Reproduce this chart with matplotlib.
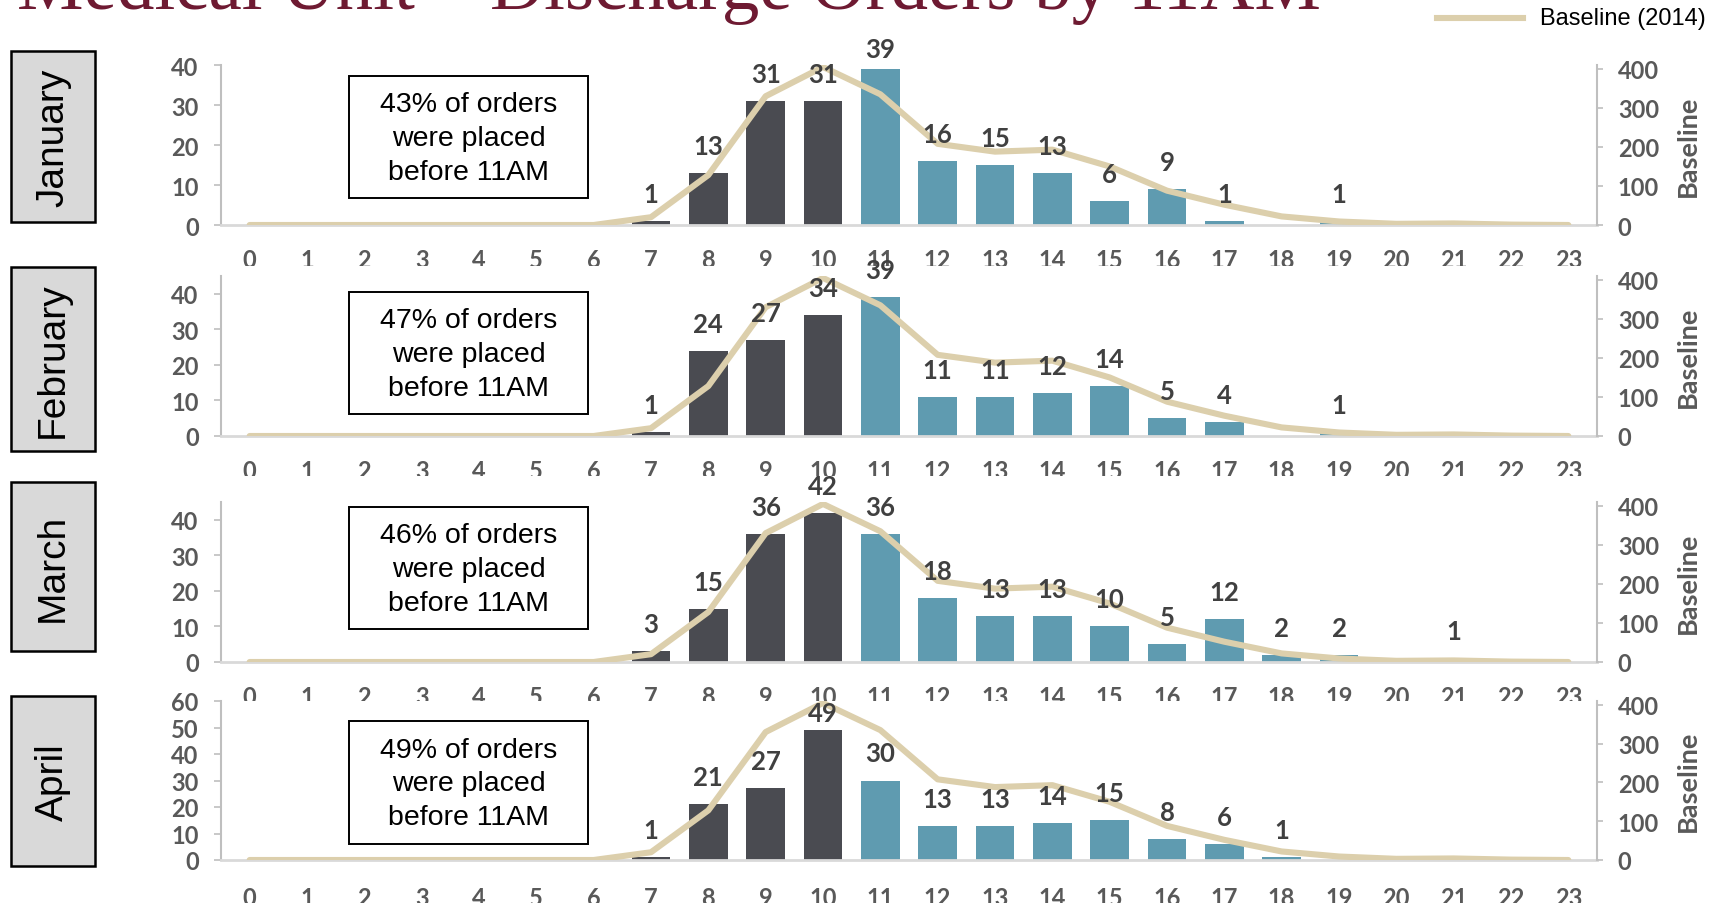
import matplotlib
matplotlib.use("Agg")
import matplotlib.pyplot as plt
from matplotlib.patches import Rectangle
from matplotlib.lines import Line2D

# ---- data -------------------------------------------------------------
hours = list(range(24))
hour_labels = [str(h) for h in hours]
months = ["January", "February", "March", "April"]

orders_jan = [0, 0, 0, 0, 0, 0, 0, 1, 13, 31, 31, 39, 16, 15, 13, 6, 9, 1, 0, 1, 0, 0, 0, 0]
orders_feb = [0, 0, 0, 0, 0, 0, 0, 1, 24, 27, 34, 39, 11, 11, 12, 14, 5, 4, 0, 1, 0, 0, 0, 0]
orders_mar = [0, 0, 0, 0, 0, 0, 0, 3, 15, 36, 42, 36, 18, 13, 13, 10, 5, 12, 2, 2, 0, 1, 0, 0]
orders_apr = [0, 0, 0, 0, 0, 0, 0, 1, 21, 27, 49, 30, 13, 13, 14, 15, 8, 6, 1, 0, 0, 0, 0, 0]
baseline_2014 = [0, 0, 0, 0, 0, 0, 0, 20, 128, 330, 405, 335, 208, 188, 193, 150,
                 88, 52, 22, 9, 3, 4, 1, 0]

left_max = [40, 45, 45, 60]
left_ticks = [[0, 10, 20, 30, 40], [0, 10, 20, 30, 40], [0, 10, 20, 30, 40],
              [0, 10, 20, 30, 40, 50, 60]]
baseline_ticks = [0, 100, 200, 300, 400]
cutoff_hour = 11

title = "Medical Unit \u2013 Discharge Orders by 11AM"
legend_label = "Baseline (2014)"
right_label = "Baseline"

# ---- styling ----------------------------------------------------------
plt.rcParams["font.family"] = ["Lato", "DejaVu Sans"]
DARK = "#4a4b51"
TEAL = "#5f9bb0"
BEIGE = "#dccfac"
TICK_TXT = "#595959"
LABEL_TXT = "#404040"
AXIS_GREY = "#bfbfbf"
MAROON = "#6e1a32"
TICK_SIZE = 17
VALUE_SIZE = 18.5

W, H = 1727, 904
fig = plt.figure(figsize=(W / 100, H / 100), dpi=100)


def fx(px):
    return px / W


def fy(py):
    return 1 - py / H


ax_left, ax_right = 221, 1597
axes_top = [66, 277, 503, 702]
axes_bot = [226, 437, 663, 861]
cover_top = [None, 267, 477, 702]
hour_pad = [16.3, 16.3, 16.3, 18.5]
label_ceiling = [39, 255, 470, 703]   # value labels are kept below these rows
month_box = [(52, 223), (268, 452), (483, 652), (697, 867)]
note_box = [(77, 199), (293, 415), (508, 630), (722, 845)]

all_orders = [orders_jan, orders_feb, orders_mar, orders_apr]

for i, (month, orders) in enumerate(zip(months, all_orders)):
    z = 10 * (i + 1)
    if cover_top[i] is not None:
        fig.patches.append(Rectangle((0, 0), 1, fy(cover_top[i]), transform=fig.transFigure,
                                     facecolor="white", edgecolor="none", zorder=z))

    ax = fig.add_axes([fx(ax_left), fy(axes_bot[i]), fx(ax_right - ax_left),
                       (axes_bot[i] - axes_top[i]) / H])
    ax.set_zorder(z + 1)
    ax.patch.set_visible(False)
    colors = [DARK if h < cutoff_hour else TEAL for h in hours]
    ax.bar(hours, orders, width=0.68, color=colors, linewidth=0)
    ax.set_xlim(-0.5, 23.5)
    ax.set_ylim(0, left_max[i])
    ax.set_yticks(left_ticks[i])
    ax.set_xticks(hours)
    ax.set_xticklabels(hour_labels)
    for s in ("top", "right"):
        ax.spines[s].set_visible(False)
    ax.spines["bottom"].set_color("#d9d9d9")
    ax.spines["bottom"].set_linewidth(2)
    ax.spines["left"].set_color(AXIS_GREY)
    ax.spines["left"].set_linewidth(1.5)
    ax.tick_params(axis="x", length=0, pad=hour_pad[i], labelsize=TICK_SIZE,
                   labelcolor=TICK_TXT)
    ax.tick_params(axis="y", length=5, width=1.2, color=AXIS_GREY, pad=11,
                   labelsize=TICK_SIZE, labelcolor=TICK_TXT)
    for lab in ax.get_xticklabels() + ax.get_yticklabels():
        lab.set_fontweight("bold")

    tw = ax.twinx()
    tw.set_zorder(z + 2)
    tw.plot(hours, baseline_2014, color=BEIGE, lw=4.4, solid_capstyle="round",
            solid_joinstyle="round")
    tw.set_ylim(0, 410)
    tw.set_yticks(baseline_ticks)
    for s in ("top", "left", "bottom"):
        tw.spines[s].set_visible(False)
    tw.spines["right"].set_color(AXIS_GREY)
    tw.spines["right"].set_linewidth(1.5)
    tw.tick_params(axis="y", length=4, width=1.2, color=AXIS_GREY, pad=11,
                   labelsize=TICK_SIZE, labelcolor=TICK_TXT)
    for lab in tw.get_yticklabels():
        lab.set_fontweight("bold")
    tw.text(1.066, 0.5, right_label, transform=tw.transAxes, rotation=90,
            ha="center", va="center", fontsize=19.5, fontweight="bold", color=TICK_TXT)

    # value labels sit above each bar, pushed down where they would leave the chart area
    px_per_unit = (axes_bot[i] - axes_top[i]) / left_max[i]
    for h, v in zip(hours, orders):
        if v > 0:
            top_px = axes_bot[i] - v * px_per_unit
            centre_px = max(top_px - 27, label_ceiling[i] + 11)
            tw.annotate(str(v), xy=(h, v), xycoords=ax.transData,
                        xytext=(0, (top_px - centre_px) * 0.72),
                        textcoords="offset points", ha="center", va="center",
                        fontsize=VALUE_SIZE, fontweight="bold", color=LABEL_TXT,
                        annotation_clip=False)

    # month tag on the left
    t0, t1 = month_box[i]
    fig.patches.append(Rectangle((fx(11), fy(t1)), fx(95 - 11), (t1 - t0) / H,
                                 transform=fig.transFigure, facecolor="#d9d9d9",
                                 edgecolor="black", linewidth=1.8, zorder=z + 3))
    fig.text(fx(53), fy((t0 + t1) / 2), month, rotation=90, ha="center", va="center",
             fontsize=28, family="Liberation Sans", color="black", zorder=z + 4)

    # share of orders placed before the cutoff hour
    early = sum(v for h, v in zip(hours, orders) if h < cutoff_hour)
    share = round(100 * early / sum(orders))
    n0, n1 = note_box[i]
    fig.patches.append(Rectangle((fx(349), fy(n1)), fx(588 - 349), (n1 - n0) / H,
                                 transform=fig.transFigure, facecolor="white",
                                 edgecolor="black", linewidth=1.4, zorder=z + 3))
    fig.text(fx(468.5), fy((n0 + n1) / 2 + 1),
             f"{share}% of orders\nwere placed\nbefore 11AM",
             ha="center", va="center", multialignment="center", linespacing=1.39,
             fontsize=20.5, family="Liberation Sans", color="black", zorder=z + 4)

# title and legend
fig.text(fx(17), fy(9), title, ha="left", va="baseline", fontsize=54,
         family="Liberation Serif", color=MAROON, zorder=100)
fig.lines.append(Line2D([fx(1437), fx(1523)], [fy(19), fy(19)], transform=fig.transFigure,
                        color=BEIGE, lw=4.4, zorder=100))
fig.text(fx(1540), fy(19), legend_label, ha="left", va="center", fontsize=17,
         family="Liberation Sans", color="black", zorder=100)

fig.savefig("out.png", dpi=100)
